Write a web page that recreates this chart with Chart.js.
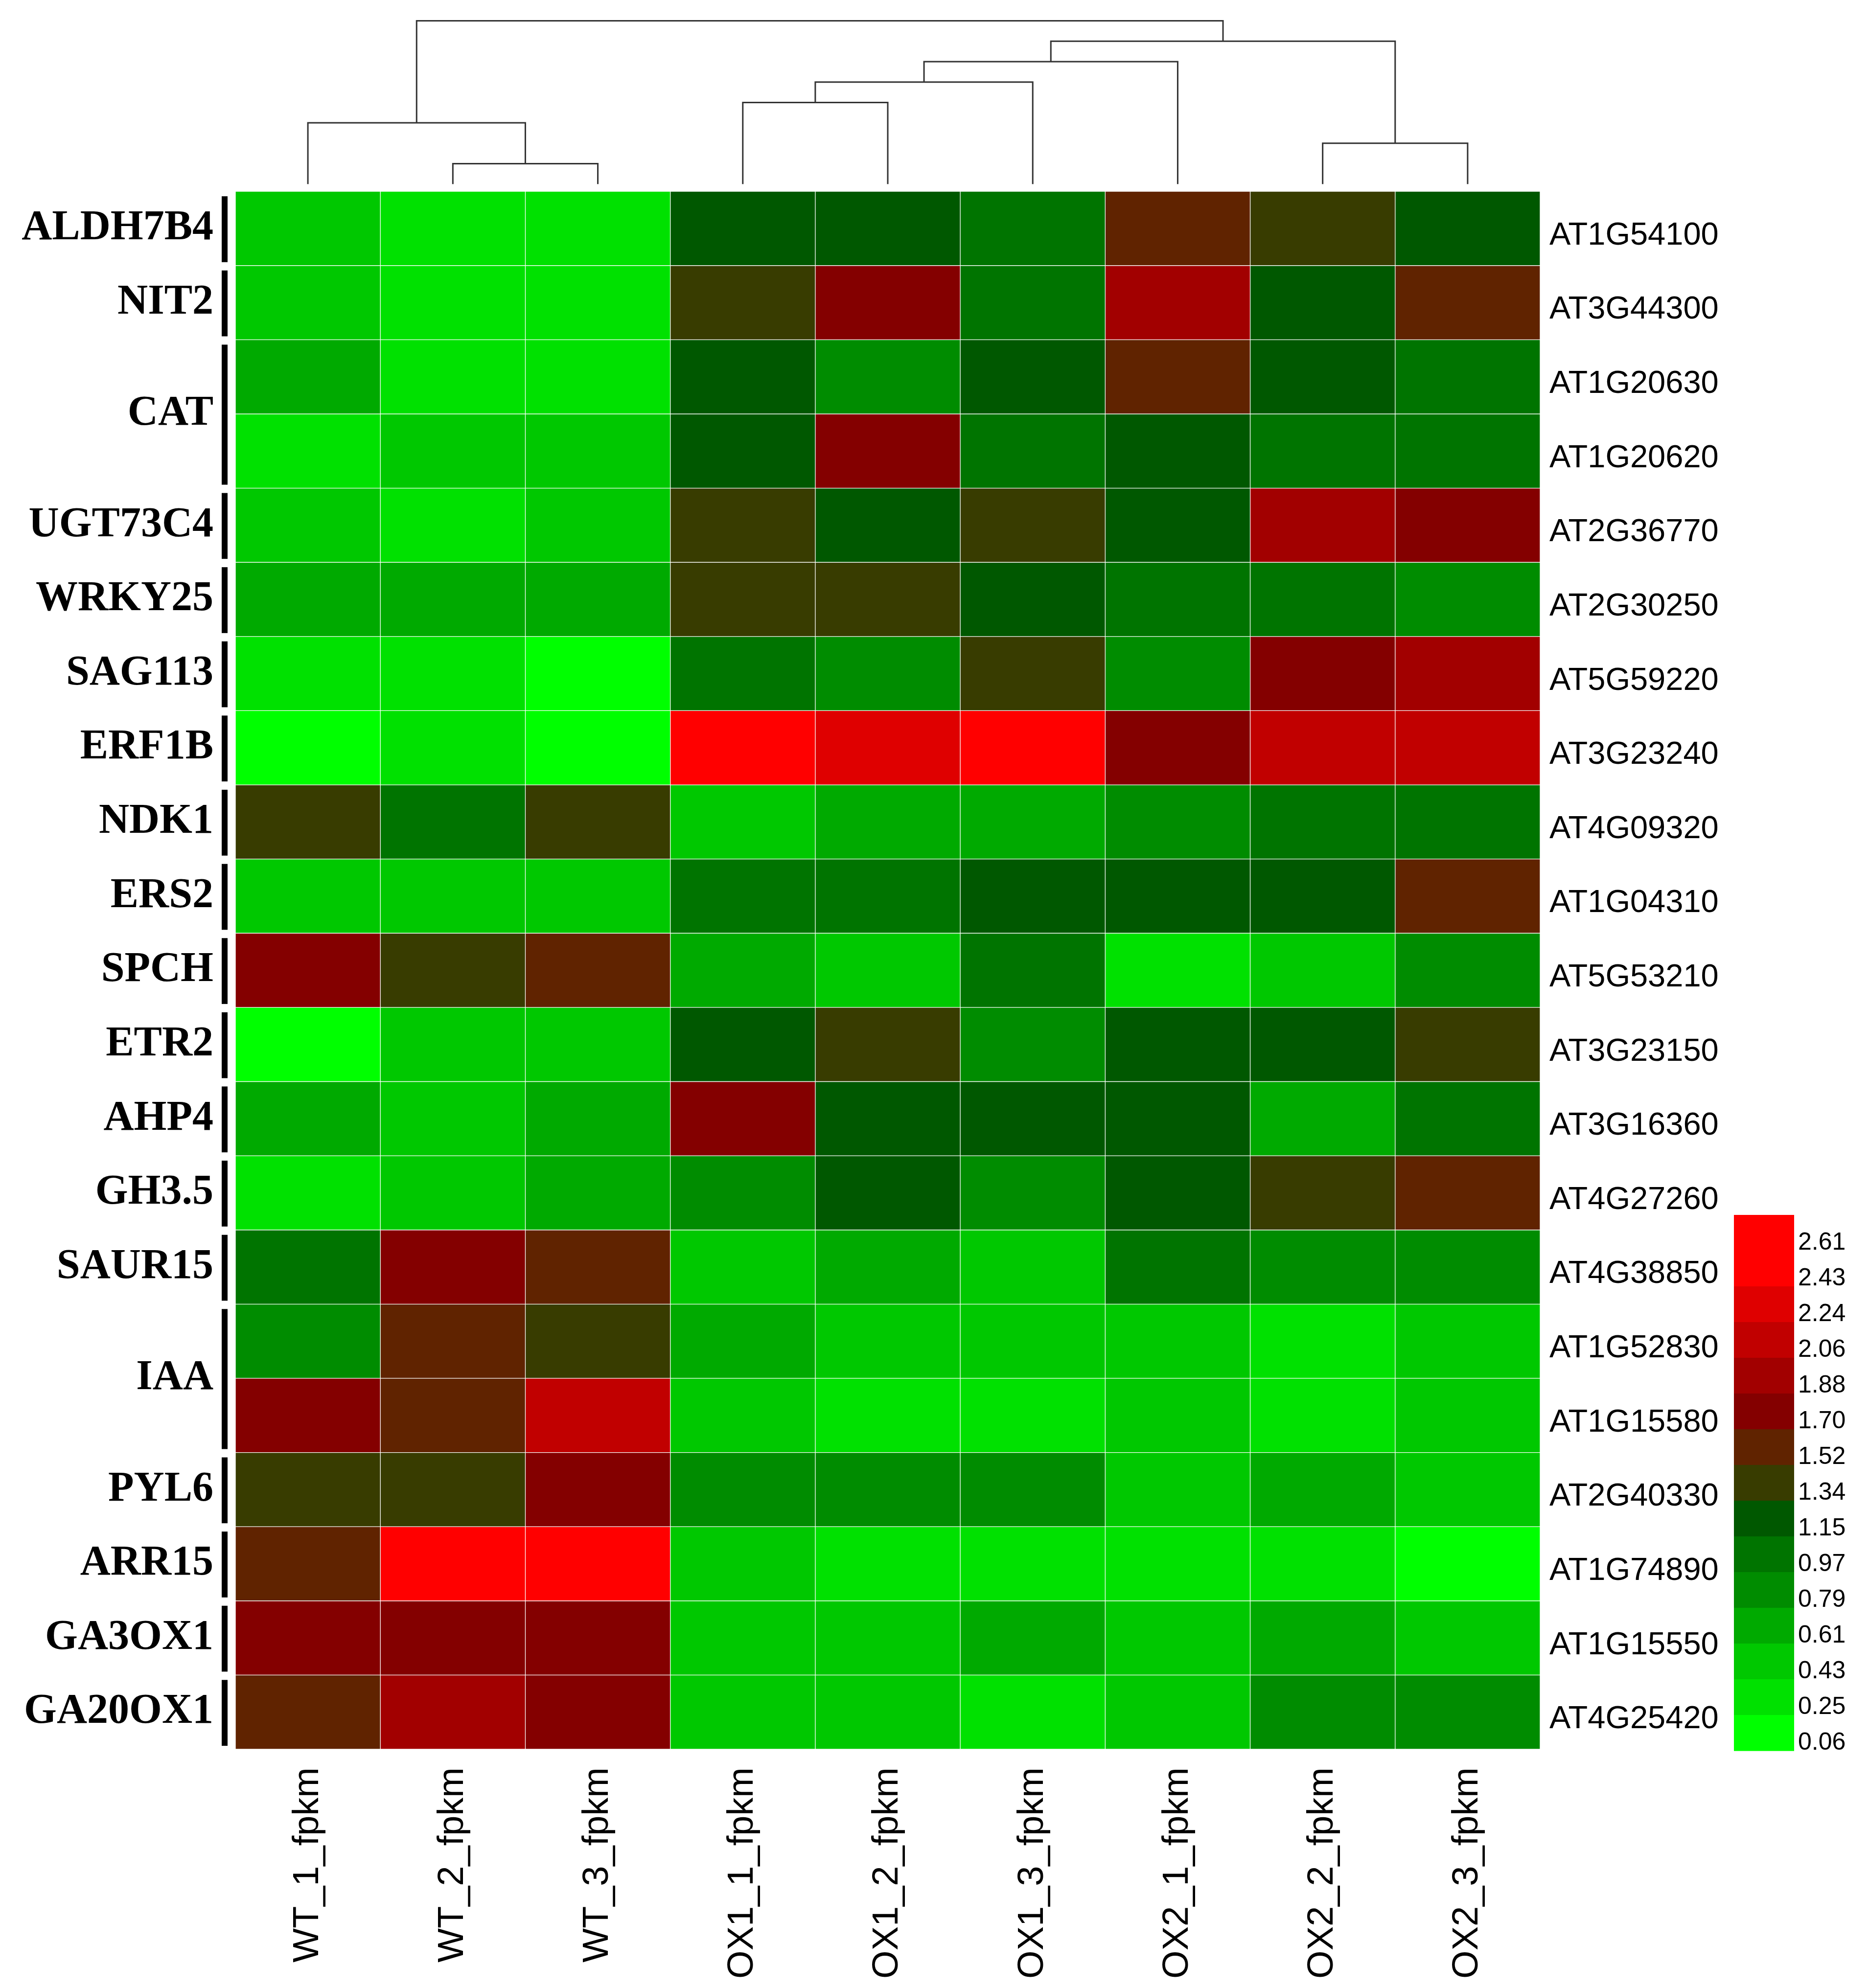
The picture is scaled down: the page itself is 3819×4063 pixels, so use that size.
<!DOCTYPE html>
<html><head><meta charset="utf-8">
<script src="https://cdn.jsdelivr.net/npm/chart.js@4.4.1/dist/chart.umd.min.js"></script>
<style>html,body{margin:0;padding:0;background:#fff;}canvas{display:block;}</style>
</head><body>
<canvas id="c" width="3819" height="4063" style="width:3819px;height:4063px"></canvas>
<script>
// ---------- data ----------
const samples = ['WT_1_fpkm','WT_2_fpkm','WT_3_fpkm','OX1_1_fpkm','OX1_2_fpkm','OX1_3_fpkm','OX2_1_fpkm','OX2_2_fpkm','OX2_3_fpkm'];
const geneIds = ['AT1G54100','AT3G44300','AT1G20630','AT1G20620','AT2G36770','AT2G30250','AT5G59220','AT3G23240','AT4G09320','AT1G04310','AT5G53210','AT3G23150','AT3G16360','AT4G27260','AT4G38850','AT1G52830','AT1G15580','AT2G40330','AT1G74890','AT1G15550','AT4G25420'];
const geneGroups = ['ALDH7B4','NIT2','CAT','UGT73C4','WRKY25','SAG113','ERF1B','NDK1','ERS2','SPCH','ETR2','AHP4','GH3.5','SAUR15','IAA','PYL6','ARR15','GA3OX1','GA20OX1'];
const groupFirstRow = [0,1,2,4,5,6,7,8,9,10,11,12,13,14,15,17,18,19,20];
const groupLastRow  = [0,1,3,4,5,6,7,8,9,10,11,12,13,14,16,17,18,19,20];

const WT_1  = [0.43,0.43,0.61,0.25,0.43,0.61,0.25,0.06,1.34,0.43,1.70,0.06,0.61,0.25,0.97,0.79,1.70,1.34,1.52,1.70,1.52];
const WT_2  = [0.25,0.25,0.25,0.43,0.25,0.61,0.25,0.25,0.97,0.43,1.34,0.43,0.43,0.43,1.70,1.52,1.52,1.34,2.61,1.70,1.88];
const WT_3  = [0.25,0.25,0.25,0.43,0.43,0.61,0.06,0.06,1.34,0.43,1.52,0.43,0.61,0.61,1.52,1.34,2.06,1.70,2.61,1.70,1.70];
const OX1_1 = [1.15,1.34,1.15,1.15,1.34,1.34,0.97,2.61,0.43,0.97,0.61,1.15,1.70,0.79,0.43,0.61,0.43,0.79,0.43,0.43,0.43];
const OX1_2 = [1.15,1.70,0.79,1.70,1.15,1.34,0.79,2.24,0.61,0.97,0.43,1.34,1.15,1.15,0.61,0.43,0.25,0.79,0.25,0.43,0.43];
const OX1_3 = [0.97,0.97,1.15,0.97,1.34,1.15,1.34,2.61,0.61,1.15,0.97,0.79,1.15,0.79,0.43,0.43,0.25,0.79,0.25,0.61,0.25];
const OX2_1 = [1.52,1.88,1.52,1.15,1.15,0.97,0.79,1.70,0.79,1.15,0.25,1.15,1.15,1.15,0.97,0.43,0.43,0.43,0.25,0.43,0.43];
const OX2_2 = [1.34,1.15,1.15,0.97,1.88,0.97,1.70,2.06,0.97,1.15,0.43,1.15,0.61,1.34,0.79,0.25,0.25,0.61,0.25,0.61,0.79];
const OX2_3 = [1.15,1.52,0.97,0.97,1.70,0.79,1.88,2.06,0.97,1.52,0.79,1.34,0.97,1.52,0.79,0.43,0.43,0.43,0.06,0.43,0.79];
const columns = [WT_1, WT_2, WT_3, OX1_1, OX1_2, OX1_3, OX2_1, OX2_2, OX2_3];

const legendLevels = [0.06,0.25,0.43,0.61,0.79,0.97,1.15,1.34,1.52,1.70,1.88,2.06,2.24,2.43,2.61];
const legendColors = ['#00ff00','#00e100','#00c800','#00aa00','#008c00','#007400','#005800','#383c00','#602300','#840000','#a20000','#c10000','#df0000','#ff0000','#ff0000'];

// dendrogram merges: [left node, right node, height]; leaves 0..8, new nodes 9..
const dendroMerges = [[1,2,1],[7,8,2],[0,9,3],[3,4,4],[12,5,5],[13,6,6],[14,10,7],[11,15,8]];

// ---------- helpers ----------
function colorOf(v){
  let best = 0, d = Infinity;
  legendLevels.forEach((l,i)=>{ const dd = Math.abs(l - v); if (dd < d){ d = dd; best = i; } });
  return legendColors[best];
}
// dendrogram height -> position on the row axis (above row 0)
const DENDRO_BASE = -0.099, DENDRO_STEP = 0.275;
const dendY = h => DENDRO_BASE - DENDRO_STEP * h;

const heatDatasets = columns.map((vals, c) => ({
  type: 'bar',
  label: samples[c],
  data: vals.map((v, r) => ({x: samples[c], y: [r, r + 1]})),
  backgroundColor: vals.map(colorOf),
  borderColor: 'rgba(255,255,255,0.6)',
  borderWidth: 1,
  borderSkipped: false,
  grouped: false,
  barPercentage: 1,
  categoryPercentage: 1,
  xAxisID: 'x',
  yAxisID: 'y',
  order: 2
}));

const nodeX = samples.map((_, i) => i);
const nodeH = samples.map(() => 0);
const dendroDatasets = dendroMerges.map(([a, b, h]) => {
  const ds = {
    type: 'line',
    data: [
      {x: nodeX[a], y: dendY(nodeH[a])},
      {x: nodeX[a], y: dendY(h)},
      {x: nodeX[b], y: dendY(h)},
      {x: nodeX[b], y: dendY(nodeH[b])}
    ],
    borderColor: '#333333',
    borderWidth: 3,
    pointRadius: 0,
    fill: false,
    tension: 0,
    clip: false,
    xAxisID: 'xd',
    yAxisID: 'y',
    order: 1
  };
  nodeX.push((nodeX[a] + nodeX[b]) / 2);
  nodeH.push(h);
  return ds;
});

const bracketPlugin = {
  id: 'brackets',
  afterDraw(chart){
    const {ctx, chartArea} = chart, ys = chart.scales.y;
    ctx.save();
    ctx.fillStyle = '#000';
    geneGroups.forEach((g, i) => {
      const y1 = ys.getPixelForValue(groupFirstRow[i]) + 10;
      const y2 = ys.getPixelForValue(groupLastRow[i] + 1) - 7;
      ctx.fillRect(chartArea.left - 28, y1, 12, y2 - y1);
    });
    ctx.restore();
  }
};

const colorbarPlugin = {
  id: 'colorbar',
  afterDraw(chart){
    const {ctx, chartArea} = chart;
    const n = legendLevels.length, bandH = 73, w = 123;
    const x0 = chartArea.right + 396;
    const top = chartArea.bottom + 3 - n * bandH;
    ctx.save();
    for (let i = 0; i < n; i++){
      const lvl = n - 1 - i;
      ctx.fillStyle = legendColors[lvl];
      ctx.fillRect(x0, top + i * bandH, w, bandH + 0.6);
    }
    ctx.fillStyle = '#000';
    ctx.font = '50px "Liberation Sans"';
    ctx.textAlign = 'left';
    ctx.textBaseline = 'middle';
    for (let i = 0; i < n; i++){
      const lvl = n - 1 - i;
      ctx.fillText(legendLevels[lvl].toFixed(2), x0 + w + 8, top + i * bandH + bandH / 2 + 21);
    }
    ctx.restore();
  }
};

const noPadY = w => s => { s.width = w; s.paddingTop = 0; s.paddingBottom = 0; };

new Chart(document.getElementById('c'), {
  data: { labels: samples, datasets: [...dendroDatasets, ...heatDatasets] },
  options: {
    responsive: false,
    animation: false,
    devicePixelRatio: 1,
    events: [],
    layout: { padding: 0 },
    plugins: { legend: {display: false}, tooltip: {enabled: false}, title: {display: false} },
    scales: {
      x: {
        type: 'category',
        position: 'bottom',
        offset: true,
        grid: {display: false, drawTicks: false},
        border: {display: false},
        ticks: {
          color: '#000',
          font: {family: 'Liberation Sans', size: 74},
          minRotation: 90, maxRotation: 90,
          padding: 37,
          autoSkip: false
        },
        afterFit: s => { s.height = 488; s.paddingLeft = 0; s.paddingRight = 0; }
      },
      xd: { type: 'linear', display: false, min: -0.5, max: 8.5 },
      y: {
        type: 'linear',
        position: 'left',
        reverse: true,
        min: -2.58, max: 21,
        grid: {display: false, drawTicks: false},
        border: {display: false},
        afterBuildTicks: s => {
          s.ticks = geneGroups.map((g, i) => ({value: (groupFirstRow[i] + groupLastRow[i] + 1) / 2}));
        },
        ticks: {
          color: '#000',
          autoSkip: false,
          padding: 45,
          font: {family: 'Liberation Serif', size: 86, weight: 'bold'},
          callback: (v, i) => geneGroups[i]
        },
        afterFit: noPadY(481)
      },
      yr: {
        type: 'linear',
        position: 'right',
        reverse: true,
        min: -2.58, max: 21,
        grid: {display: false, drawTicks: false},
        border: {display: false},
        afterBuildTicks: s => {
          s.ticks = geneIds.map((g, i) => ({value: i + 0.5}));
        },
        ticks: {
          color: '#000',
          autoSkip: false,
          padding: 19,
          labelOffset: 15,
          font: {family: 'Liberation Sans', size: 65},
          callback: (v, i) => geneIds[i]
        },
        afterFit: noPadY(672)
      }
    }
  },
  plugins: [bracketPlugin, colorbarPlugin]
});
</script>
</body></html>
